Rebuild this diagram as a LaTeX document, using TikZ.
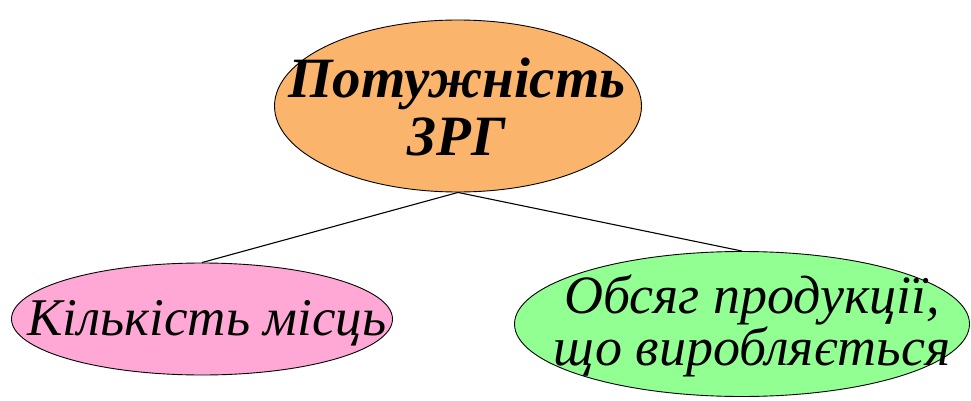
\documentclass[tikz,border=0pt]{standalone}
\usepackage{fontspec}
\setmainfont{Liberation Serif}
\usetikzlibrary{shapes.geometric}
\definecolor{bubbleorange}{RGB}{250,180,108}
\definecolor{bubblepink}{RGB}{255,168,214}
\definecolor{bubblegreen}{RGB}{146,255,146}
\begin{document}
\begin{tikzpicture}[x=1pt,y=-1pt,
  bubble/.style={ellipse,draw=black,line width=0.9pt,inner sep=0pt},
  link/.style={draw=black,line width=1.1pt},
  headtext/.style={anchor=base,inner sep=0pt,align=center,font=\fontsize{57}{58}\selectfont\bfseries\itshape},
  leaftext/.style={anchor=base,inner sep=0pt,align=center,font=\fontsize{54}{49}\selectfont\itshape}]
\useasboundingbox (0,0) rectangle (971,401);
% the three bubbles
\node[bubble,fill=bubbleorange,minimum width=367pt,minimum height=172pt] (head) at (458,106) {};
\node[bubble,fill=bubblepink,minimum width=381pt,minimum height=112pt] (seats) at (202,319) {};
\node[bubble,fill=bubblegreen,minimum width=455pt,minimum height=145pt] (output) at (742,324) {};
% connectors
\draw[link] (head.south) -- (seats.north);
\draw[link] (head.south) -- (output.north);
% labels (base anchor sits on the last line)
\node[headtext] (headlabel) at (457,155) {Потужність\\ЗРГ};
\node[leaftext,font=\fontsize{53}{49}\selectfont\itshape] (seatslabel) at (207,335) {Кількість місць};
\node[leaftext] (outputlabel) at (752,365) {Обсяг продукції,\\що виробляється};
\end{tikzpicture}
\end{document}
